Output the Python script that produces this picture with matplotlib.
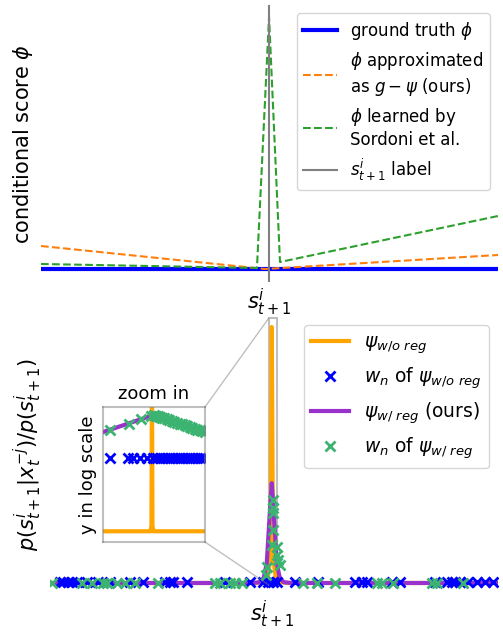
import matplotlib
matplotlib.use("Agg")
import matplotlib.pyplot as plt
from matplotlib.patches import Rectangle, ConnectionPatch
from matplotlib.ticker import NullLocator

# ---------------- top panel data ----------------
gt_x = [-1.0, 1.004]
gt_y = [0.0, 0.0]
ours_x = [-1.0, -0.018, 1.004]
ours_y = [23.0, 0.0, 14.0]
sordoni_x = [-1.0, -0.053, 0.0, 0.048, 1.004]
sordoni_y = [5.0, 1.0, 252.0, 7.0, 53.0]
label_pos = 0.0

# ---------------- bottom panel data ----------------
orange_x = [-0.99, -0.067, -0.036, -0.018, -0.009, -0.0045, 0.0, 0.0045, 0.009, 0.018, 0.036, 0.067, 1.01]
orange_y = [0.0, 0.0, 0.05, 0.2, 0.8, 3.0, 10.0, 3.0, 0.8, 0.2, 0.05, 0.0, 0.0]
purple_x = [-0.99, -0.089, -0.0536, -0.0357, -0.0223, -0.0134, -0.0067, 0.0,
            0.0067, 0.0134, 0.0223, 0.0357, 0.0536, 0.089, 1.01]
purple_y = [0.0, 0.0, 0.03, 0.2, 0.78, 2.07, 3.0, 3.9, 3.0, 2.07, 0.78, 0.2, 0.03, 0.0, 0.0]

blue_w_x = [-0.946, -0.933, -0.911, -0.893, -0.871, -0.826, -0.777, -0.723, -0.634, -0.576,
            -0.478, -0.455, -0.442, -0.379, -0.210, -0.098, -0.040, -0.018, 0.004, 0.022,
            0.103, 0.205, 0.371, 0.402, 0.424, 0.536, 0.571, 0.728, 0.781, 0.804, 0.817,
            0.839, 0.875, 0.915, 0.951, 0.987]
blue_w_y = [0.05] * len(blue_w_x)

green_w_x = [-0.982, -0.848, -0.804, -0.754, -0.737, -0.692, -0.656, -0.612, -0.509, -0.254,
             -0.232, -0.188, -0.165, -0.134, 0.138, 0.201, 0.281, 0.469, 0.491, 0.540,
             0.714, 0.737, 0.853,
             0.004, 0.004, 0.004, 0.004, 0.0, 0.022, 0.022, 0.027, 0.036, -0.022, -0.027]
green_w_y = [0.0] * 23 + [3.24, 2.93, 2.73, 2.07, 1.48, 1.41, 1.09, 0.90, 0.70, 0.63, 0.31]

# ---------------- inset (log scale zoom) data ----------------
zoom_orange_x = [-1.0, -0.07, -0.05, -0.04, -0.03, -0.01, 1.0]
zoom_orange_y = [0.003, 0.003, 0.005, 1e5, 0.005, 0.003, 0.003]
zoom_purple_x = [-1.0, -0.5, -0.02, 0.5, 1.0]
zoom_purple_y = [77, 185, 440, 190, 77]
zoom_blue_x = [-0.86, -0.51, -0.41, -0.27, -0.14, -0.02, 0.06, 0.12, 0.18, 0.25, 0.31, 0.37,
               0.45, 0.51, 0.57, 0.65, 0.71, 0.76, 0.84, 0.90, 0.96]
zoom_blue_y = [5.4] * len(zoom_blue_x)
zoom_green_x = [-0.86, -0.5, -0.25, -0.05, 0.0, 0.04, 0.08, 0.12, 0.16, 0.2, 0.25, 0.3, 0.35,
                0.4, 0.45, 0.5, 0.55, 0.6, 0.65, 0.7, 0.75, 0.8, 0.85, 0.9, 0.95, 1.0]
zoom_green_y = [98, 184, 284, 403, 440, 410, 382, 357, 333, 310, 284, 261, 239,
                219, 201, 184, 169, 155, 142, 130, 119, 109, 100, 92, 84, 77]

C_ORANGE = "orange"
C_PURPLE = "darkorchid"
C_BLUE = "blue"
C_GREEN = "mediumseagreen"
MS = 7.5
MEW = 2.0

fig = plt.figure(figsize=(5.03, 6.33), dpi=100)

# ================= top panel =================
ax1 = fig.add_axes([41 / 503, 1 - 282 / 633, 457 / 503, 277 / 633])
ax1.plot(gt_x, gt_y, color="blue", lw=3, label="ground truth $\\phi$")
ax1.plot(ours_x, ours_y, "--", color="C1", lw=1.5,
         label="$\\phi$ approximated\nas $g-\\psi$ (ours)")
ax1.plot(sordoni_x, sordoni_y, "--", color="C2", lw=1.5,
         label="$\\phi$ learned by\nSordoni et al.")
ax1.axvline(label_pos, color="gray", lw=1.5, label="$s^i_{t+1}$ label")
ax1.set_xlim(-1.0, 1.004)
ax1.set_ylim(-13, 264)
for s in ax1.spines.values():
    s.set_visible(False)
ax1.set_yticks([])
ax1.set_xticks([label_pos])
ax1.set_xticklabels(["$s^i_{t+1}$"], fontsize=15)
ax1.tick_params(length=0)
ax1.set_ylabel("conditional score $\\phi$", fontsize=15)
ax1.legend(loc="upper right", fontsize=12)

# ================= bottom panel =================
ax2 = fig.add_axes([50 / 503, 1 - 594 / 633, 448 / 503, 278 / 633])
h_or, = ax2.plot(orange_x, orange_y, color=C_ORANGE, lw=3, label="$\\psi_{w/o\\ reg}$")
h_pu, = ax2.plot(purple_x, purple_y, color=C_PURPLE, lw=3, label="$\\psi_{w/\\ reg}$ (ours)")
h_bl, = ax2.plot(blue_w_x, blue_w_y, "x", color=C_BLUE, ms=MS, mew=MEW, ls="none",
                 label="$w_n$ of $\\psi_{w/o\\ reg}$")
h_gr, = ax2.plot(green_w_x, green_w_y, "x", color=C_GREEN, ms=MS, mew=MEW, ls="none",
                 label="$w_n$ of $\\psi_{w/\\ reg}$")
ax2.set_xlim(-0.99, 1.01)
ax2.set_ylim(-0.43, 10.43)
for s in ax2.spines.values():
    s.set_visible(False)
ax2.set_yticks([])
ax2.set_xticks([label_pos])
ax2.set_xticklabels(["$s^i_{t+1}$"], fontsize=15)
ax2.tick_params(length=0)
ax2.set_ylabel("$p(s^i_{t+1}|x_t^{-j})/p(s^i_{t+1})$", fontsize=15)
ax2.legend(handles=[h_or, h_bl, h_pu, h_gr], loc="upper right", fontsize=13.5)

# zoom indicator rectangle
rx0, ry0, rw, rh = -0.013, -0.08, 0.035, 10.43
ax2.add_patch(Rectangle((rx0, ry0), rw, rh, fill=False, edgecolor="0.5", alpha=0.5, lw=1.5))

# ================= inset =================
axin = fig.add_axes([103 / 503, 1 - 542 / 633, 102 / 503, 135 / 633])
axin.plot(zoom_orange_x, zoom_orange_y, color=C_ORANGE, lw=3)
axin.plot(zoom_purple_x, zoom_purple_y, color=C_PURPLE, lw=3)
axin.plot(zoom_blue_x, zoom_blue_y, "x", color=C_BLUE, ms=MS, mew=MEW, ls="none")
axin.plot(zoom_green_x, zoom_green_y, "x", color=C_GREEN, ms=MS, mew=MEW, ls="none")
axin.set_yscale("log")
axin.set_ylim(1e-3, 1e3)
axin.set_xlim(-1, 1)
axin.set_xticks([])
axin.set_yticks([])
axin.yaxis.set_minor_locator(NullLocator())
axin.xaxis.set_minor_locator(NullLocator())
for s in axin.spines.values():
    s.set_edgecolor((0.5, 0.5, 0.5, 0.5))
    s.set_linewidth(1.5)
axin.set_title("zoom in", fontsize=13)
axin.set_ylabel("y in log scale", fontsize=13)

for xyA, xyB in [((1, 1), (rx0, ry0 + rh)), ((1, 0), (rx0, ry0))]:
    con = ConnectionPatch(xyA=xyA, coordsA=axin.transAxes, xyB=xyB, coordsB=ax2.transData,
                          color="0.5", alpha=0.5, lw=1)
    fig.add_artist(con)

fig.savefig("out.png", dpi=100)
